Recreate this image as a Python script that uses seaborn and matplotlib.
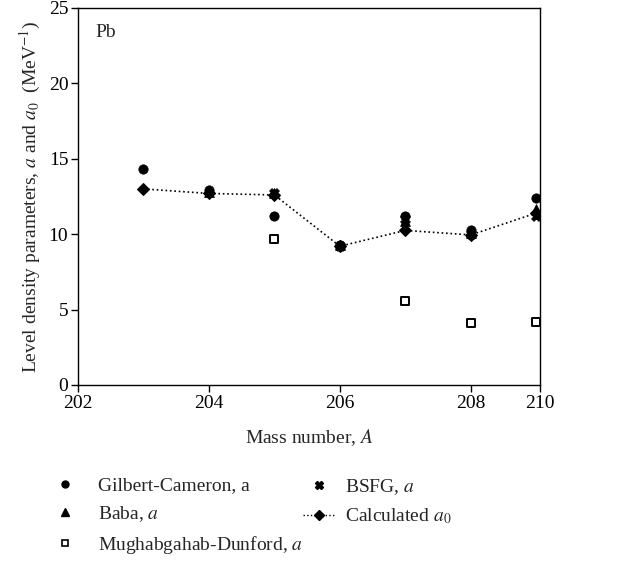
import matplotlib
matplotlib.use("Agg")
import matplotlib.pyplot as plt
from matplotlib.lines import Line2D
import seaborn as sns
import pandas as pd

# === Data ===
mass = [203, 204, 205, 206, 207, 208, 209]
gilbert_cameron = [14.3, 12.9, 11.2, 9.3, 11.2, 10.3, 12.4]
baba = [None, 12.8, 12.7, 9.3, 10.9, 10.1, 11.7]
mughabgahab = [None, None, 9.65, None, 5.55, 4.1, 4.15]
bsfg = [None, None, 12.7, 9.2, 11.0, 10.0, 11.2]
calculated = [13.0, 12.7, 12.6, 9.2, 10.25, 9.95, 11.4]

x_ticks = [202, 204, 206, 208]
x_labels = ["202", "204", "206", "208", "210"]
x_right = 209.06

sns.set_theme(style="ticks")
plt.rcParams["font.family"] = ["Liberation Serif", "DejaVu Serif"]
plt.rcParams["mathtext.fontset"] = "stix"
FS = 14

df = pd.DataFrame({
    "A": mass,
    "gc": gilbert_cameron,
    "baba": baba,
    "md": mughabgahab,
    "bsfg": bsfg,
    "calc": calculated,
})

fig = plt.figure(figsize=(6.34, 5.67), dpi=100)
ax = fig.add_axes([0.123, 0.321, 0.729, 0.665])

# === Series ===
sns.lineplot(data=df, x="A", y="calc", ax=ax, color="black", linestyle=":",
             linewidth=1.2, marker="D", markersize=6.5, markeredgecolor="black",
             zorder=2)
sns.scatterplot(data=df, x="A", y="md", ax=ax, marker="s", s=32,
                facecolor="white", edgecolor="black", linewidth=1.4, zorder=3)
sns.scatterplot(data=df, x="A", y="baba", ax=ax, marker="^", s=50,
                color="black", edgecolor="black", zorder=3)
sns.scatterplot(data=df, x="A", y="bsfg", ax=ax, marker="X", s=50,
                color="black", edgecolor="black", zorder=3)
sns.scatterplot(data=df, x="A", y="gc", ax=ax, marker="o", s=45,
                color="black", edgecolor="black", zorder=4)

# === Axes ===
ax.set_xlim(202, x_right)
ax.set_ylim(0, 25)
ax.set_xticks(x_ticks + [x_right])
ax.set_xticklabels(x_labels)
ax.set_yticks([0, 5, 10, 15, 20, 25])
ax.tick_params(direction="out", length=5, width=1, labelsize=FS,
               colors="black", pad=2)
for s in ax.spines.values():
    s.set_color("black")
    s.set_linewidth(1)
ax.set_xlabel("Mass number, $A$", fontsize=FS, labelpad=11)
ax.set_ylabel("Level density parameters, $a$ and $a_0$  (MeV$^{-1}$)",
              fontsize=FS, labelpad=4)
ax.text(0.037, 0.934, "Pb", transform=ax.transAxes, fontsize=FS,
        va="center", ha="left")

# === Legend (two columns) ===
col1_handles = [
    Line2D([], [], linestyle="none", marker="o", color="black", markersize=5),
    Line2D([], [], linestyle="none", marker="^", color="black", markersize=6),
    Line2D([], [], linestyle="none", marker="s", markerfacecolor="white",
           markeredgecolor="black", markersize=5, markeredgewidth=1.2),
]
col1_labels = ["Gilbert-Cameron, a", "Baba, $a$", "Mughabgahab-Dunford, $a$"]
col2_handles = [
    Line2D([], [], linestyle="none", marker="X", color="black", markersize=6),
    Line2D([], [], linestyle=":", color="black", marker="D", markersize=5,
           linewidth=1),
]
col2_labels = ["BSFG, $a$", "Calculated $a_0$"]

fig.legend(col1_handles, col1_labels, loc="upper left",
           bbox_to_anchor=(0.078, 0.159), frameon=False, fontsize=FS,
           handlelength=1.6, handletextpad=0.9, labelspacing=0.5,
           borderpad=0, borderaxespad=0)
fig.legend(col2_handles, col2_labels, loc="upper left",
           bbox_to_anchor=(0.478, 0.159), frameon=False, fontsize=FS,
           handlelength=1.6, handletextpad=0.57, labelspacing=0.5,
           borderpad=0, borderaxespad=0)

fig.savefig("out.png", dpi=100)
